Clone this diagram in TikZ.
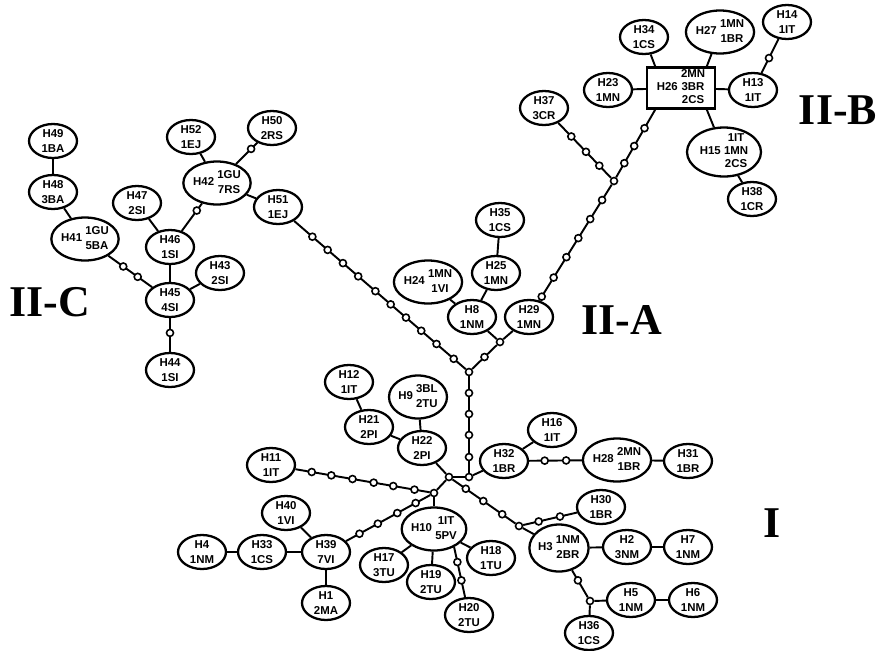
\documentclass[tikz,border=0pt]{standalone}
\usepackage{fontspec}
\setmainfont{Liberation Sans}
\newfontfamily\cladefont{Liberation Serif}
\usetikzlibrary{shapes.geometric,calc,backgrounds}
\newcommand{\hstack}[1]{\begin{tabular}{@{}c@{}}#1\end{tabular}}
\newcommand{\muts}[4]{%
  \foreach \fr [count=\nm] in {#4}
    \node[mut] (#1-\nm) at ($(#2)!\fr!(#3)$) {};}
\tikzset{hap/.style={ellipse,draw,line width=1.3pt,fill=white,inner sep=0pt,
   minimum width=0.96cm,minimum height=0.68cm,align=center,
   font=\fontsize{6.5}{8.3}\selectfont\bfseries},
 bighap/.style={hap,minimum width=1.28cm,minimum height=0.86cm},
 tighthap/.style={font=\fontsize{6.5}{7.2}\selectfont\bfseries},
 hapbox/.style={hap,rectangle,minimum width=1.36cm,minimum height=0.82cm},
 mut/.style={circle,draw,line width=0.9pt,fill=white,inner sep=0pt,minimum size=0.14cm},
 link/.style={line width=1.1pt},
 clade/.style={font=\cladefont\bfseries\fontsize{25}{25}\selectfont},
 }

\begin{document}
\begin{tikzpicture}[x=0.02cm,y=-0.02cm]
        \useasboundingbox (0,0) rectangle (880,650);
        \node[hap] (H49) at (53,141) {H49\\1BA};
        \node[hap] (H48) at (53,192) {H48\\3BA};
        \node[bighap] (H41) at (85,239) {H41 \hstack{1GU\\5BA}};
        \node[hap] (H47) at (137,203) {H47\\2SI};
        \node[hap] (H46) at (170,247) {H46\\1SI};
        \node[hap] (H43) at (220,273) {H43\\2SI};
        \node[hap] (H45) at (170,300) {H45\\4SI};
        \node[hap] (H44) at (170,370) {H44\\1SI};
        \node[hap] (H52) at (191,137) {H52\\1EJ};
        \node[bighap] (H42) at (217,183) {H42 \hstack{1GU\\7RS}};
        \node[hap] (H50) at (272,128) {H50\\2RS};
        \node[hap] (H51) at (278,207) {H51\\1EJ};
        \node[hap] (H35) at (500,220) {H35\\1CS};
        \node[hap] (H25) at (496,273) {H25\\1MN};
        \node[bighap] (H24) at (428,282) {H24 \hstack{1MN\\1VI}};
        \node[hap] (H8) at (472,317) {H8\\1NM};
        \node[hap] (H29) at (529,317) {H29\\1MN};
        \node[hap] (H37) at (544,108) {H37\\3CR};
        \node[hap] (H34) at (644,37) {H34\\1CS};
        \node[bighap] (H27) at (720,32) {H27 \hstack{1MN\\1BR}};
        \node[hap] (H14) at (787,22) {H14\\1IT};
        \node[hap] (H23) at (608,90) {H23\\1MN};
        \node[hapbox,tighthap] (H26) at (681,88) {H26 \hstack{2MN\\3BR\\2CS}};
        \node[hap] (H13) at (753,90) {H13\\1IT};
        \node[bighap,tighthap,minimum width=1.48cm,minimum height=0.98cm,inner sep=-3pt] (H15) at (724,152) {H15 \hstack{1IT\\1MN\\2CS}};
        \node[hap] (H38) at (752,199) {H38\\1CR};
        \node[hap] (H12) at (349,382) {H12\\1IT};
        \node[bighap,minimum width=1.16cm] (H9) at (418,397) {H9 \hstack{3BL\\2TU}};
        \node[hap] (H21) at (369,427) {H21\\2PI};
        \node[hap] (H22) at (422,448) {H22\\2PI};
        \node[hap] (H11) at (271,465) {H11\\1IT};
        \node[hap] (H40) at (286,513) {H40\\1VI};
        \node[hap] (H4) at (202,552) {H4\\1NM};
        \node[hap] (H33) at (262,552) {H33\\1CS};
        \node[hap] (H39) at (326,552) {H39\\7VI};
        \node[hap] (H1) at (326,603) {H1\\2MA};
        \node[bighap,minimum width=1.2cm] (H10) at (434,529) {H10 \hstack{1IT\\5PV}};
        \node[hap] (H17) at (384,565) {H17\\3TU};
        \node[hap] (H19) at (431,582) {H19\\2TU};
        \node[hap] (H18) at (491,558) {H18\\1TU};
        \node[hap] (H20) at (469,615) {H20\\2TU};
        \node[hap] (H32) at (504,461) {H32\\1BR};
        \node[hap] (H16) at (552,430) {H16\\1IT};
        \node[bighap] (H28) at (617,460) {H28 \hstack{2MN\\1BR}};
        \node[hap] (H31) at (688,461) {H31\\1BR};
        \node[hap] (H30) at (601,507) {H30\\1BR};
        \node[bighap,minimum width=1.14cm,minimum height=0.94cm] (H3) at (559,548) {H3 \hstack{1NM\\2BR}};
        \node[hap] (H2) at (627,547) {H2\\3NM};
        \node[hap] (H7) at (688,547) {H7\\1NM};
        \node[hap] (H5) at (631,600) {H5\\1NM};
        \node[hap] (H6) at (693,600) {H6\\1NM};
        \node[hap] (H36) at (589,633) {H36\\1CS};
        \node[mut] (j1) at (469,372) {};
        \node[mut] (j2) at (500,342) {};
        \node[mut] (j3) at (614,181) {};
        \node[mut] (j4) at (469,477) {};
        \node[mut] (j5) at (449,477) {};
        \node[mut] (j6) at (434,493) {};
        \node[mut] (j7) at (519,526) {};
        \node[mut] (j8) at (590,601) {};
        \node[clade] (c2c) at (50,302) {II-C};
        \node[clade] (c2a) at (622,320) {II-A};
        \node[clade] (c2b) at (838,110) {II-B};
        \node[clade] (c1) at (772,523) {I};
        \begin{scope}[on background layer]
        \foreach \a/\b in {H49/H48,H48/H41,H41/H45,H47/H46,H46/H45,H43/H45,H45/H44,
            H46/H42,H52/H42,H42/H50,H42/H51,H51/j1,j1/j2,j2/H8,j2/H29,H8/H24,H8/H25,
            H25/H35,H29/j3,j3/H37,j3/H26.-140,H26.140/H34,H26.40/H27,H26/H23,H26/H13,
            H26.-40/H15,H13/H14,H15/H38,j1/j4,j4/H32,j4/j5,j5/H22,H22/H21,H22/H9,
            H21/H12,j5/j6,j6/H11,j6/H39,j6/H10,H39/H40,H39/H33,H33/H4,H39/H1,H10/H17,
            H10/H19,H10/H18,H10.-42/H20,j5/j7,j7/H3,j7/H30,H3/H2,H2/H7,H3/j8,j8/H5,
            H5/H6,j8/H36,H32/H16,H32/H28,H28/H31}
            \draw[link] (\a) -- (\b);
        \end{scope}
        \muts{ma}{H41}{H45}{0.45,0.62}
        \muts{mb}{H45}{H44}{0.47}
        \muts{mc}{H46}{H42}{0.57}
        \muts{md}{H42}{H50}{0.62}
        \muts{me}{H51}{j1}{0.18,0.26,0.34,0.42,0.51,0.59,0.67,0.75,0.83,0.92}
        \muts{mf}{j1}{j2}{0.5}
        \muts{mg}{H29}{j3}{0.15,0.29,0.44,0.58,0.72,0.86}
        \muts{mh}{j3}{H37}{0.21,0.4,0.61}
        \muts{mi}{j3}{H26.-140}{0.25,0.49,0.74}
        \muts{mj}{H13}{H14}{0.47}
        \muts{mk}{j1}{j4}{0.2,0.4,0.6,0.81}
        \muts{ml}{j6}{H11}{0.12,0.25,0.37,0.5,0.63,0.75}
        \muts{mm}{j6}{H39}{0.17,0.34,0.52,0.69}
        \muts{mn}{H10.-42}{H20}{0.22,0.49}
        \muts{mo}{j5}{j7}{0.24,0.49,0.76}
        \muts{mp}{j7}{H30}{0.24,0.5}
        \muts{mq}{H3}{j8}{0.61}
        \muts{mr}{H32}{H28}{0.36,0.55}
    \end{tikzpicture}
\end{document}
